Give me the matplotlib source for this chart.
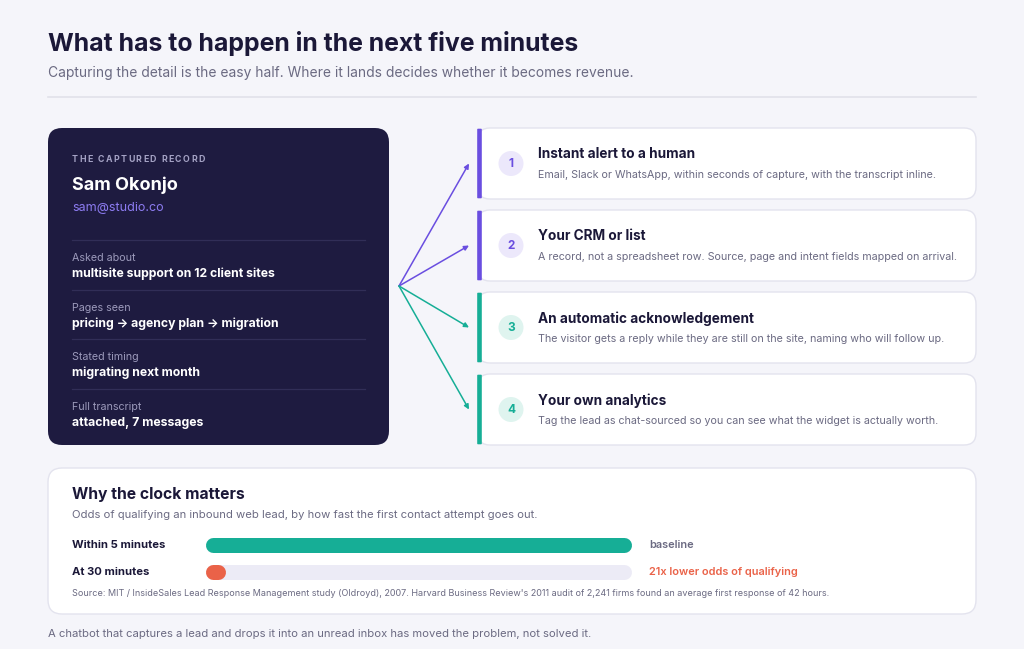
import matplotlib
matplotlib.use("Agg")
import matplotlib.pyplot as plt
from matplotlib.patches import FancyBboxPatch, Circle

plt.rcParams["font.family"] = ["Inter", "DejaVu Sans"]

# ---------------- data ----------------
TITLE = "What has to happen in the next five minutes"
SUBTITLE = "Capturing the detail is the easy half. Where it lands decides whether it becomes revenue."

RECORD_KICKER = "THE CAPTURED RECORD"
RECORD_NAME = "Sam Okonjo"
RECORD_EMAIL = "sam@studio.co"
FIELD_LABELS = ["Asked about", "Pages seen", "Stated timing", "Full transcript"]
FIELD_VALUES = ["multisite support on 12 client sites",
                "pricing \u2192 agency plan \u2192 migration",
                "migrating next month",
                "attached, 7 messages"]

STEP_TITLES = ["Instant alert to a human", "Your CRM or list",
               "An automatic acknowledgement", "Your own analytics"]
STEP_TEXTS = ["Email, Slack or WhatsApp, within seconds of capture, with the transcript inline.",
              "A record, not a spreadsheet row. Source, page and intent fields mapped on arrival.",
              "The visitor gets a reply while they are still on the site, naming who will follow up.",
              "Tag the lead as chat-sourced so you can see what the widget is actually worth."]
STEP_GROUP = ["purple", "purple", "teal", "teal"]

CLOCK_TITLE = "Why the clock matters"
CLOCK_SUB = "Odds of qualifying an inbound web lead, by how fast the first contact attempt goes out."
BAR_LABELS = ["Within 5 minutes", "At 30 minutes"]
BAR_VALUES = [1.0, 1 / 21]
BAR_NOTES = ["baseline", "21x lower odds of qualifying"]
SOURCE = ("Source: MIT / InsideSales Lead Response Management study (Oldroyd), 2007. "
          "Harvard Business Review's 2011 audit of 2,241 firms found an average first response of 42 hours.")
FOOTER = "A chatbot that captures a lead and drops it into an unread inbox has moved the problem, not solved it."

# ---------------- style ----------------
BG = "#f5f5fa"
INK = "#1b1838"
GREY = "#6b6a82"
CARD_DARK = "#1e1b40"
PURPLE = "#6a4ee0"
TEAL = "#16ae96"
ORANGE = "#ea6248"
ACCENT = {"purple": PURPLE, "teal": TEAL}
ACCENT_LIGHT = {"purple": "#ece8fb", "teal": "#dff4ef"}
BORDER = "#e3e3ee"

W, H = 1024, 649
fig = plt.figure(figsize=(W / 100, H / 100), dpi=100, facecolor=BG)
ax = fig.add_axes([0, 0, 1, 1])
ax.set_xlim(0, W)
ax.set_ylim(H, 0)
ax.axis("off")


def card(x0, y0, x1, y1, fc, ec="none", r=12, lw=1.0, z=1):
    p = FancyBboxPatch((x0 + r, y0 + r), (x1 - x0) - 2 * r, (y1 - y0) - 2 * r,
                       boxstyle=f"round,pad={r}", fc=fc, ec=ec, lw=lw, zorder=z)
    ax.add_patch(p)


# header
ax.text(48, 43, TITLE, fontsize=17.9, fontweight="bold", color=INK, va="center")
ax.text(48, 73, SUBTITLE, fontsize=9.95, color=GREY, va="center")
ax.plot([48, 976], [97, 97], color="#e1e1ea", lw=1.2)

# dark record card
card(48, 128, 389, 445, CARD_DARK, r=14)
renderer = fig.canvas.get_renderer()
cx = 72
for ch in RECORD_KICKER:
    t = ax.text(cx, 159, ch, fontsize=6.3, fontweight="bold", color="#a4a2c4", va="center", zorder=3)
    cx += t.get_window_extent(renderer).width + 1.4
ax.text(72, 185, RECORD_NAME, fontsize=13, fontweight="bold", color="white", va="center", zorder=3)
ax.text(72, 208, RECORD_EMAIL, fontsize=9, color="#8d7cf2", va="center", zorder=3)
sep_y = [240, 290, 339, 389]
for i, (lab, val) in enumerate(zip(FIELD_LABELS, FIELD_VALUES)):
    y = sep_y[i]
    ax.plot([72, 365], [y, y], color="#312e57", lw=0.9, zorder=3)
    ax.text(72, y + 18, lab, fontsize=7.7, color="#9c9abb", va="center", zorder=3)
    ax.text(72, y + 34, val, fontsize=8.8, fontweight="bold", color="white", va="center", zorder=3)

# step cards and arrows
card_top = [128, 210, 292, 374]
card_h = 71
origin = (399, 286)
for i, (title, txt, grp) in enumerate(zip(STEP_TITLES, STEP_TEXTS, STEP_GROUP)):
    y0 = card_top[i]
    yc = y0 + card_h / 2
    col = ACCENT[grp]
    card(478, y0, 976, y0 + card_h, "white", ec=BORDER, r=12, lw=1.0)
    ax.add_patch(FancyBboxPatch((478, y0 + 1.5), 3, card_h - 3, boxstyle="round,pad=0.8",
                                fc=col, ec="none", zorder=3))
    ax.add_patch(Circle((511, yc), 12.5, fc=ACCENT_LIGHT[grp], ec="none", zorder=3))
    ax.text(511, yc + 0.5, str(i + 1), fontsize=8.5, fontweight="bold", color=col,
            ha="center", va="center", zorder=4)
    ax.text(538, yc - 9, title, fontsize=9.8, fontweight="bold", color=INK, va="center", zorder=4)
    ax.text(538, yc + 12, txt, fontsize=7.7, color=GREY, va="center", zorder=4)
    ax.annotate("", xy=(469, yc), xytext=origin,
                arrowprops=dict(arrowstyle="-|>", color=col, lw=1.1, mutation_scale=7,
                                shrinkA=0, shrinkB=0), zorder=2)

# clock card
card(48, 468, 976, 614, "white", ec=BORDER, r=14, lw=1.0)
ax.text(72, 495, CLOCK_TITLE, fontsize=11.3, fontweight="bold", color=INK, va="center", zorder=4)
ax.text(72, 515, CLOCK_SUB, fontsize=8.1, color=GREY, va="center", zorder=4)

track_x0, track_x1 = 205, 631
bar_h = 15
bar_y = [545, 572]
bar_cols = [TEAL, ORANGE]
note_cols = [GREY, ORANGE]
pts = bar_h * 72 / 100
for lab, val, note, y, c, nc in zip(BAR_LABELS, BAR_VALUES, BAR_NOTES, bar_y, bar_cols, note_cols):
    ax.text(72, y, lab, fontsize=8.1, fontweight="bold", color=INK, va="center", zorder=4)
    half = bar_h / 2
    ax.plot([track_x0 + half, track_x1 - half], [y, y], color="#ecebf6", lw=pts,
            solid_capstyle="round", zorder=3)
    end = track_x0 + val * (track_x1 - track_x0)
    ax.plot([track_x0 + half, max(end - half, track_x0 + half + 0.01)], [y, y], color=c, lw=pts,
            solid_capstyle="round", zorder=4)
    ax.text(649, y, note, fontsize=7.9, fontweight="semibold", color=nc, va="center", zorder=4)

ax.text(72, 594, SOURCE, fontsize=6.5, color=GREY, va="center", zorder=4)
ax.text(48, 634, FOOTER, fontsize=8.1, color=GREY, va="center")

fig.savefig("out.png", dpi=100, facecolor=BG)
